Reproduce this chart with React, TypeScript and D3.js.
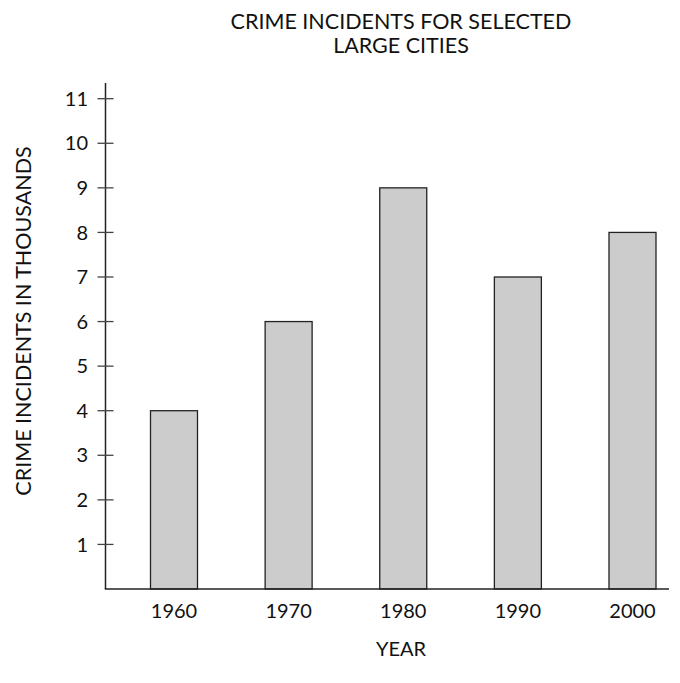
import React from "react";
import * as d3 from "d3";

const years = ["1960", "1970", "1980", "1990", "2000"];
const incidents = [4, 6, 9, 7, 8];
const yTicks = [1, 2, 3, 4, 5, 6, 7, 8, 9, 10, 11];
const titleLines = ["CRIME INCIDENTS FOR SELECTED", "LARGE CITIES"];
const yLabel = "CRIME INCIDENTS IN THOUSANDS";
const xLabel = "YEAR";

const W = 680;
const H = 683;
const FONT = "Lato, 'Open Sans', sans-serif";

export default function App() {
  const axisX = 105.5;
  const baseY = 589;
  const x = d3.scalePoint<string>().domain(years).range([174, 632.5]).padding(0);
  const y = d3.scaleLinear().domain([0, 11]).range([baseY, 98.7]);
  const barW = 47;

  return (
    <svg
      width={W}
      height={H}
      style={{ position: "absolute", left: 0, top: 0, background: "#fff" }}
      fontFamily={FONT}
    >
      {/* title */}
      <text x={401} y={29} textAnchor="middle" fontSize={21.5} fill="#111">
        {titleLines[0]}
      </text>
      <text x={401} y={53} textAnchor="middle" fontSize={21.5} fill="#111">
        {titleLines[1]}
      </text>

      {/* bars */}
      {years.map((yr, i) => (
        <rect
          key={yr}
          x={(x(yr) as number) - barW / 2}
          y={y(incidents[i])}
          width={barW}
          height={baseY - y(incidents[i])}
          fill="#cccccc"
          stroke="#222"
          strokeWidth={1.3}
        />
      ))}

      {/* y axis */}
      <line x1={axisX} x2={axisX} y1={83} y2={baseY} stroke="#222" strokeWidth={1.5} />
      {yTicks.map((t) => (
        <g key={t}>
          <line x1={axisX - 8} x2={axisX + 8} y1={y(t)} y2={y(t)} stroke="#444" strokeWidth={1.3} />
          <text x={88} y={y(t)} dy="0.36em" textAnchor="end" fontSize={20} fill="#111">
            {t}
          </text>
        </g>
      ))}

      {/* x axis */}
      <line x1={axisX - 0.75} x2={669} y1={baseY} y2={baseY} stroke="#222" strokeWidth={1.5} />
      {years.map((yr) => (
        <text key={yr} x={x(yr) as number} y={618} textAnchor="middle" fontSize={20} fill="#111">
          {yr}
        </text>
      ))}

      {/* axis labels */}
      <text
        transform={`translate(31,321) rotate(-90)`}
        textAnchor="middle"
        fontSize={21.5}
        fill="#111"
      >
        {yLabel}
      </text>
      <text x={401} y={656} textAnchor="middle" fontSize={20} fill="#111">
        {xLabel}
      </text>
    </svg>
  );
}
